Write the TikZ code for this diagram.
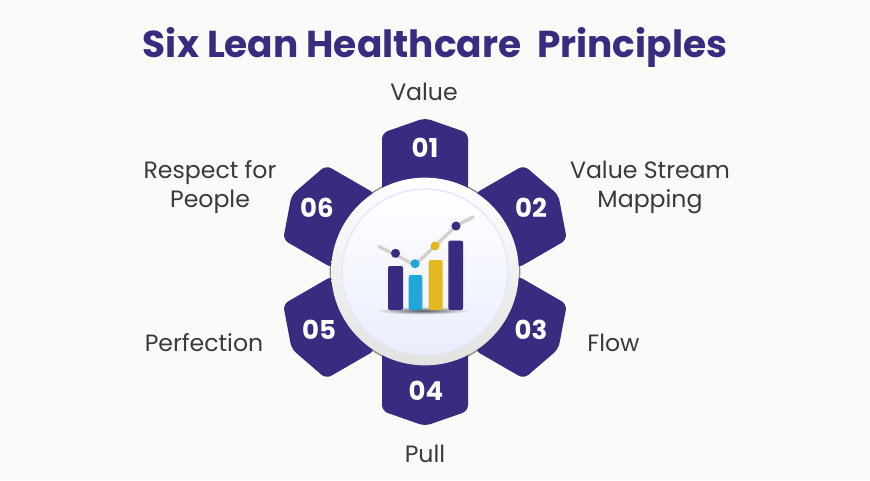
\documentclass[tikz,border=0pt]{standalone}
\usepackage{fontspec}
\setmainfont{Poppins}
\definecolor{leanindigo}{RGB}{56,43,128}
\definecolor{leantext}{RGB}{58,58,58}
\definecolor{leanback}{RGB}{250,250,249}
\definecolor{leanring}{RGB}{228,233,251}
\definecolor{leanblue}{RGB}{30,167,216}
\definecolor{leanyellow}{RGB}{228,184,31}
\tikzset{every picture/.style={line width=0.75pt}}
\tikzset{
  petal/.style={fill=leanindigo,rounded corners=4.5pt},
  petalnum/.style={text=white,font=\bfseries\fontsize{19.5}{22}\selectfont},
  petallabel/.style={text=leantext,align=center,font=\fontsize{17.7}{21.7}\selectfont},
  chartbar/.style={rounded corners=1.5pt}
}

\begin{document}
\begin{tikzpicture}[x=0.75pt,y=0.75pt,yscale=-1,xscale=1]
%Shape: Rectangle [id:background]
\fill [leanback] (0,0) rectangle (870,480) ;

%Shape: Circle [id:hubedge]
\fill [color={rgb, 255:red, 140; green, 140; blue, 132 }] (425,271.5) circle (71.5pt) ;

%Shape: Petal [id:petal01]
\fill [petal] (382,210) -- (382,133) -- (425,118) -- (468,133) -- (468,210) -- cycle ;
%Shape: Petal [id:petal02]
\fill [petal] (474.5,193.8) -- (523.9,165.3) -- (558.4,195) -- (566.9,239.7) -- (517.5,268.2) -- cycle ;
%Shape: Petal [id:petal03]
\fill [petal] (517.5,275.8) -- (566.9,304.3) -- (558.4,349) -- (523.9,378.7) -- (474.5,350.2) -- cycle ;
%Shape: Petal [id:petal04]
\fill [petal] (382,334) -- (382,411) -- (425,426) -- (468,411) -- (468,334) -- cycle ;
%Shape: Petal [id:petal05]
\fill [petal] (332.5,275.8) -- (283.1,304.3) -- (291.6,349) -- (326.1,378.7) -- (375.5,350.2) -- cycle ;
%Shape: Petal [id:petal06]
\fill [petal] (375.5,193.8) -- (326.1,165.3) -- (291.6,195) -- (283.1,239.7) -- (332.5,268.2) -- cycle ;

%Shape: Circle [id:hubouter]
\shade [top color=white,middle color=white,bottom color={rgb, 255:red, 226; green, 226; blue, 224 }] (425,271.5) circle (70.4pt) ;
%Shape: Circle [id:hubring]
\fill [leanring] (425,272) circle (62.8pt) ;
%Shape: Circle [id:hubinner]
\shade [top color=white,bottom color={rgb, 255:red, 234; green, 238; blue, 253 }] (425,272) circle (61.5pt) ;

%Shape: Ellipse [id:chartshadow]
\shade [inner color={rgb, 255:red, 90; green, 90; blue, 90 },outer color={rgb, 255:red, 240; green, 243; blue, 253 }] (423,310.5) ellipse (35pt and 3pt) ;
%Straight Lines [id:chartline]
\draw [color={rgb, 255:red, 212; green, 209; blue, 203 },line width=2.5pt,line cap=round,rounded corners=3pt] (379,246.5) -- (415,265) -- (456,226) -- (473,217) ;
%Shape: Rectangle [id:bar1]
\fill [leanindigo,chartbar] (388,266) rectangle (403,310) ;
%Shape: Rectangle [id:bar2]
\fill [leanblue,chartbar] (408.7,275) rectangle (422.3,310) ;
%Shape: Rectangle [id:bar3]
\fill [leanyellow,chartbar] (428.7,260) rectangle (442.7,310) ;
%Shape: Rectangle [id:bar4]
\fill [leanindigo,chartbar] (448.3,240.7) rectangle (463,310) ;
%Shape: Circle [id:dot1]
\fill [leanindigo] (395.5,253.3) circle (3.4pt) ;
%Shape: Circle [id:dot2]
\fill [leanblue] (415,263.7) circle (3.4pt) ;
%Shape: Circle [id:dot3]
\fill [leanyellow] (435,246) circle (3.4pt) ;
%Shape: Circle [id:dot4]
\fill [leanindigo] (456,226) circle (3.4pt) ;

% Text Node
\draw (435,47) node (title) [text=leanindigo,font=\bfseries\fontsize{28.1}{34}\selectfont] {Six Lean Healthcare\ \ Principles};
% Text Node
\draw (424,92) node (lblvalue) [petallabel] {Value};
% Text Node
\draw (650,187) node (lblstream) [petallabel] {Value Stream\\Mapping};
% Text Node
\draw (613.5,343) node (lblflow) [petallabel] {Flow};
% Text Node
\draw (425,454) node (lblpull) [petallabel] {Pull};
% Text Node
\draw (204,343) node (lblperfection) [petallabel] {Perfection};
% Text Node
\draw (210,187) node (lblrespect) [petallabel] {Respect for\\People};
% Text Node
\draw (425,148) node (num01) [petalnum] {01};
% Text Node
\draw (531,208) node (num02) [petalnum] {02};
% Text Node
\draw (531,330) node (num03) [petalnum] {03};
% Text Node
\draw (426,391) node (num04) [petalnum] {04};
% Text Node
\draw (319,330) node (num05) [petalnum] {05};
% Text Node
\draw (317,208) node (num06) [petalnum] {06};

\end{tikzpicture}
\end{document}
